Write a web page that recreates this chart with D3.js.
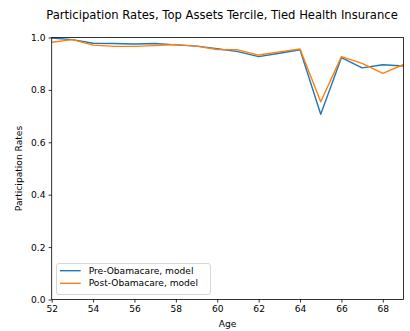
<!DOCTYPE html>
<html>
<head>
<meta charset="utf-8">
<script src="https://cdn.jsdelivr.net/npm/d3@7"></script>
<style>
  html, body { margin: 0; padding: 0; background: #fff; }
  svg { display: block; font-family: "DejaVu Sans", sans-serif; }
</style>
</head>
<body>
<svg id="chart" width="410" height="331"></svg>
<script>
// Participation rates by age, top assets tercile, tied health insurance
const ages = [52, 53, 54, 55, 56, 57, 58, 59, 60, 61, 62, 63, 64, 65, 66, 67, 68, 69];
const preObamacare = [0.998, 0.992, 0.978, 0.977, 0.975, 0.977, 0.972, 0.967, 0.957, 0.946, 0.927, 0.940, 0.953, 0.707, 0.923, 0.884, 0.896, 0.891];
const postObamacare = [0.982, 0.992, 0.971, 0.966, 0.966, 0.969, 0.973, 0.967, 0.954, 0.953, 0.933, 0.945, 0.956, 0.755, 0.927, 0.901, 0.863, 0.897];
const xTicks = [52, 54, 56, 58, 60, 62, 64, 66, 68];
const yTicks = [0.0, 0.2, 0.4, 0.6, 0.8, 1.0];
const seriesNames = ["Pre-Obamacare, model", "Post-Obamacare, model"];
const seriesColors = ["#1f77b4", "#ff7f0e"];

const svg = d3.select("#chart");
const plot = { left: 51.7, right: 403.5, top: 37.5, bottom: 299.5 };

const x = d3.scaleLinear().domain([52, 69]).range([plot.left, plot.right]);
const y = d3.scaleLinear().domain([0, 1]).range([plot.bottom, plot.top]);

const tickFont = 9.1;

// Axes
const xAxis = d3.axisBottom(x).tickValues(xTicks).tickFormat(d3.format("d")).tickSize(3.1).tickPadding(3.1);
const yAxis = d3.axisLeft(y).tickValues(yTicks).tickFormat(d3.format(".1f")).tickSize(3.1).tickPadding(3.1);

const gx = svg.append("g").attr("transform", `translate(0,${plot.bottom})`).call(xAxis);
const gy = svg.append("g").attr("transform", `translate(${plot.left},0)`).call(yAxis);
[gx, gy].forEach(g => {
  g.select(".domain").remove();
  g.selectAll("line").attr("stroke", "#000").attr("stroke-width", 0.8);
  g.selectAll("text").attr("font-size", tickFont).attr("fill", "#000").attr("font-family", "DejaVu Sans");
});

// Lines
const clipId = "plot-clip";
svg.append("clipPath").attr("id", clipId).append("rect")
  .attr("x", plot.left).attr("y", plot.top - 2)
  .attr("width", plot.right - plot.left).attr("height", plot.bottom - plot.top + 4);

const line = d3.line().x((d, i) => x(ages[i])).y(d => y(d));
[preObamacare, postObamacare].forEach((vals, i) => {
  svg.append("path")
    .attr("d", line(vals))
    .attr("fill", "none")
    .attr("stroke", seriesColors[i])
    .attr("stroke-width", 1.4)
    .attr("stroke-linejoin", "round")
    .attr("clip-path", `url(#${clipId})`);
});

// Frame
svg.append("rect")
  .attr("x", plot.left).attr("y", plot.top)
  .attr("width", plot.right - plot.left).attr("height", plot.bottom - plot.top)
  .attr("fill", "none").attr("stroke", "#000").attr("stroke-width", 0.8);

// Legend
const lg = svg.append("g").attr("transform", "translate(56.5,263.5)");
lg.append("rect")
  .attr("width", 154).attr("height", 31).attr("rx", 2.5)
  .attr("fill", "#fff").attr("fill-opacity", 0.8)
  .attr("stroke", "#ccc").attr("stroke-width", 0.8);
seriesNames.forEach((name, i) => {
  const yy = 7.2 + i * 12.6;
  lg.append("line").attr("x1", 3.5).attr("x2", 24.2).attr("y1", yy).attr("y2", yy)
    .attr("stroke", seriesColors[i]).attr("stroke-width", 1.4);
  lg.append("text").attr("x", 32.2).attr("y", yy).attr("dy", "0.35em")
    .attr("font-size", tickFont).attr("fill", "#000").text(name);
});

// Titles
svg.append("text")
  .attr("x", 222).attr("y", 19)
  .attr("text-anchor", "middle").attr("font-size", 11.6).attr("fill", "#000")
  .text("Participation Rates, Top Assets Tercile, Tied Health Insurance");

svg.append("text")
  .attr("x", (plot.left + plot.right) / 2).attr("y", 327)
  .attr("text-anchor", "middle").attr("font-size", tickFont).attr("fill", "#000")
  .text("Age");

svg.append("text")
  .attr("transform", `translate(22,${(plot.top + plot.bottom) / 2}) rotate(-90)`)
  .attr("text-anchor", "middle").attr("font-size", tickFont).attr("fill", "#000")
  .text("Participation Rates");
</script>
</body>
</html>
